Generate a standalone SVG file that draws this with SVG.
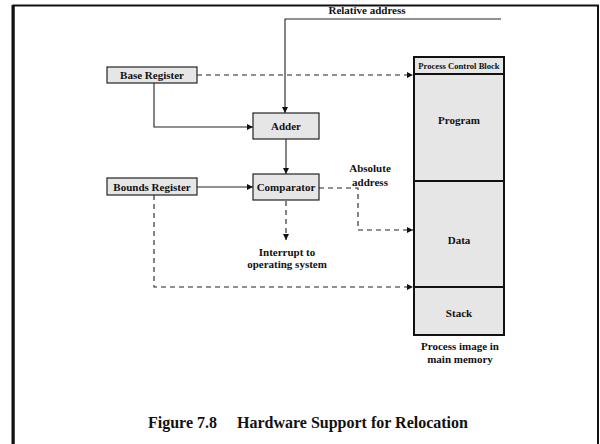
<svg xmlns="http://www.w3.org/2000/svg" width="600" height="444" viewBox="0 0 600 444">
  <style>
    .lbl { font-family: "Liberation Serif", "Times New Roman", serif; font-weight: bold; font-size: 11px; fill: #111; text-anchor: middle; }
    .small { font-size: 8.6px; }
    .cap { font-size: 16px; text-anchor: start; }
    .box { fill: #e6e6e6; stroke: #222; stroke-width: 1.2; }
    .mem { fill: #e6e6e6; stroke: #111; stroke-width: 2; }
    .solid { fill: none; stroke: #222; stroke-width: 1.1; }
    .dash { fill: none; stroke: #222; stroke-width: 1.1; stroke-dasharray: 5 4; }
  </style>
  <defs>
    <marker id="arr" viewBox="0 0 10 10" refX="10" refY="5" markerWidth="6" markerHeight="6" markerUnits="userSpaceOnUse" orient="auto">
      <path d="M0,0 L10,5 L0,10 z" fill="#111"/>
    </marker>
  </defs>

  <rect width="600" height="444" fill="#fff"/>
  <!-- page frame -->
  <path d="M13.5,450 V5.5 H598 V450" fill="none" stroke="#111" stroke-width="2"/>
  <line x1="13" y1="5" x2="13" y2="450" stroke="#111" stroke-width="3"/>

  <!-- connectors -->
  <g id="connectors">
    <path class="solid" d="M501,19 H285 V113" marker-end="url(#arr)" stroke="#444"/>
    <path class="dash" d="M197,75 H413" marker-end="url(#arr)"/>
    <path class="solid" d="M154,83 V127 H253" marker-end="url(#arr)"/>
    <path class="solid" d="M286,139 V174" marker-end="url(#arr)"/>
    <path class="solid" d="M197,187 H253" marker-end="url(#arr)"/>
    <path class="dash" d="M286,201 V240" marker-end="url(#arr)"/>
    <path class="dash" d="M319,188 H358 V230 H413" marker-end="url(#arr)"/>
    <path class="dash" d="M154,195 V287 H413" marker-end="url(#arr)"/>
  </g>

  <text class="lbl" x="367" y="14">Relative address</text>

  <g id="base-register">
    <rect class="box" x="107" y="67" width="90" height="16"/>
    <text class="lbl" x="152" y="79">Base Register</text>
  </g>

  <g id="bounds-register">
    <rect class="box" x="107" y="178" width="90" height="17"/>
    <text class="lbl" x="152" y="190.5">Bounds Register</text>
  </g>

  <g id="adder">
    <rect class="box" x="253" y="113" width="66" height="26"/>
    <text class="lbl" x="286" y="130">Adder</text>
  </g>

  <g id="comparator">
    <rect class="box" x="253" y="174" width="66" height="26"/>
    <text class="lbl" x="286" y="191">Comparator</text>
  </g>

  <g id="absolute-address">
    <text class="lbl" x="370" y="172">Absolute</text>
    <text class="lbl" x="370" y="186">address</text>
  </g>

  <g id="interrupt">
    <text class="lbl" x="287" y="256">Interrupt to</text>
    <text class="lbl" x="287" y="268">operating system</text>
  </g>

  <g id="process-image">
    <rect class="mem" x="414" y="57" width="90" height="17"/>
    <text class="lbl small" x="459" y="68.5">Process Control Block</text>
    <rect class="mem" x="414" y="74" width="90" height="107"/>
    <text class="lbl" x="459" y="124">Program</text>
    <rect class="mem" x="414" y="181" width="90" height="106"/>
    <text class="lbl" x="459" y="244">Data</text>
    <rect class="mem" x="414" y="287" width="90" height="48"/>
    <text class="lbl" x="459" y="317">Stack</text>
    <text class="lbl" x="460" y="350">Process image in</text>
    <text class="lbl" x="460" y="363">main memory</text>
  </g>

  <text class="lbl cap" y="428"><tspan x="148">Figure 7.8</tspan><tspan x="237">Hardware Support for Relocation</tspan></text>
</svg>
